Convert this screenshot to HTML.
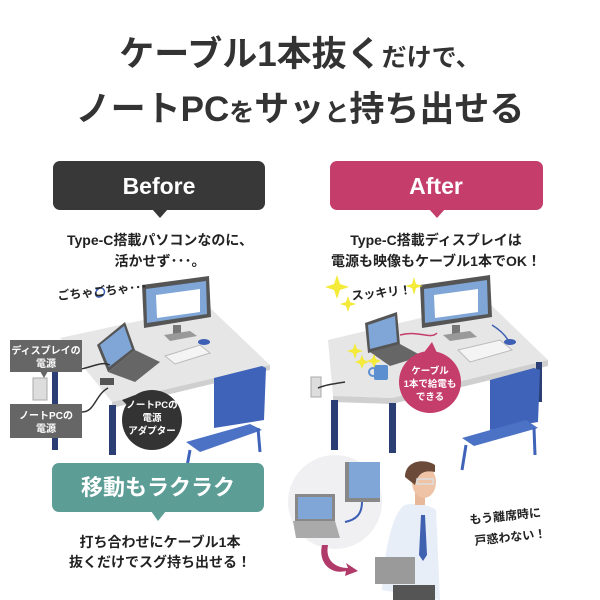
<!DOCTYPE html>
<html><head><meta charset="utf-8"><style>
html,body{margin:0;padding:0;background:#fff;}
svg{display:block;}
text{font-family:"Liberation Sans","Noto Sans CJK JP",sans-serif;font-weight:bold;}
</style></head><body>
<svg width="600" height="600" viewBox="0 0 600 600" xmlns="http://www.w3.org/2000/svg">
<rect width="600" height="600" fill="#fff"/>
<text x="300" y="66" text-anchor="middle" fill="#333" font-size="35">ケーブル1本抜く<tspan font-size="25">だけで、</tspan></text>
<text x="300" y="121" text-anchor="middle" fill="#333" font-size="35">ノートPC<tspan font-size="25">を</tspan>サッ<tspan font-size="25">と</tspan>持ち出せる</text>

<rect x="53" y="161" width="212" height="49" rx="7" fill="#383838"/>
<polygon points="152,209 168,209 160,218" fill="#383838"/>
<text x="159" y="194" text-anchor="middle" fill="#fff" font-size="23">Before</text>
<text x="160" y="245" text-anchor="middle" fill="#222" font-size="14">Type-C搭載パソコンなのに、</text>
<text x="160" y="266" text-anchor="middle" fill="#222" font-size="14">活かせず･･･。</text>

<rect x="330" y="161" width="213" height="49" rx="7" fill="#c43d6b"/>
<polygon points="429,209 445,209 437,218" fill="#c43d6b"/>
<text x="436" y="194" text-anchor="middle" fill="#fff" font-size="23">After</text>
<text x="436" y="245" text-anchor="middle" fill="#222" font-size="14">Type-C搭載ディスプレイは</text>
<text x="436" y="266" text-anchor="middle" fill="#222" font-size="14">電源も映像もケーブル1本でOK！</text>

<!-- BEFORE scene -->
<rect x="52" y="340" width="6" height="110" fill="#2b3f75"/>
<polygon points="60,338 208,306 270,365 112,402" fill="#e6e6e6"/>
<polygon points="112,402 270,365 270,370 112,408" fill="#cfcfcf"/>
<rect x="109" y="405" width="7" height="50" fill="#2b3f75"/>
<polygon points="142,285 209,276 211,317 144,328" fill="#555"/>
<polygon points="146,289 206,281 207,314 147,323" fill="#7fa6d6"/>
<polygon points="156,295 200,289 200,312 157,318" fill="#fff"/>
<rect x="173" y="325" width="8" height="10" fill="#777"/>
<polygon points="164,335 190,331 197,336 170,341" fill="#999"/>
<ellipse cx="204" cy="342" rx="6" ry="3" fill="#3d5fb5"/>
<polygon points="97,345 125,322 135,350 108,372" fill="#555"/>
<polygon points="100,345 124,326 132,349 109,367" fill="#7fa6d6"/>
<polygon points="108,372 135,350 160,362 135,382" fill="#666"/>
<polygon points="165,356 200,345 210,353 175,364" fill="#f4f4f4" stroke="#bbb" stroke-width="1"/>
<!-- chair -->
<polygon points="214,378 262,366 266,368 264,420 214,428" fill="#3e63b8"/>
<polygon points="186,442 250,424 262,430 200,452" fill="#4c72c6"/>
<line x1="190" y1="450" x2="186" y2="472" stroke="#3e63b8" stroke-width="3"/>
<line x1="258" y1="428" x2="260" y2="452" stroke="#3e63b8" stroke-width="3"/>
<path d="M70,370 C90,370 100,360 110,365" stroke="#333" stroke-width="1.5" fill="none"/>
<path d="M82,412 C95,412 95,395 108,388" stroke="#333" stroke-width="1.5" fill="none"/>
<rect x="100" y="378" width="14" height="7" fill="#555"/>
<rect x="33" y="378" width="14" height="22" fill="#ddd" stroke="#aaa"/>
<path d="M96,290 c6,-6 12,2 6,6 c-6,4 -10,-4 -2,-8" stroke="#3d5fb5" stroke-width="1.5" fill="none"/>
<text x="58" y="300" fill="#222" font-size="12" transform="rotate(-6 58 300)">ごちゃごちゃ･･･</text>
<rect x="10" y="340" width="72" height="32" fill="#666"/>
<polygon points="40,371 48,371 44,378" fill="#666"/>
<text x="46" y="354" text-anchor="middle" fill="#fff" font-size="10">ディスプレイの</text>
<text x="46" y="367" text-anchor="middle" fill="#fff" font-size="10">電源</text>
<rect x="10" y="404" width="72" height="34" fill="#666"/>
<text x="46" y="419" text-anchor="middle" fill="#fff" font-size="10">ノートPCの</text>
<text x="46" y="432" text-anchor="middle" fill="#fff" font-size="10">電源</text>
<circle cx="152" cy="420" r="30" fill="#333"/>
<polygon points="122,400 135,395 130,408" fill="#333"/>
<text x="152" y="408" text-anchor="middle" fill="#fff" font-size="9.5">ノートPCの</text>
<text x="152" y="421" text-anchor="middle" fill="#fff" font-size="9.5">電源</text>
<text x="152" y="434" text-anchor="middle" fill="#fff" font-size="9.5">アダプター</text>

<rect x="52" y="463" width="212" height="49" rx="7" fill="#5c9d96"/>
<polygon points="151,511 166,511 158,521" fill="#5c9d96"/>
<text x="158" y="495" text-anchor="middle" fill="#fff" font-size="22">移動もラクラク</text>
<text x="160" y="547" text-anchor="middle" fill="#222" font-size="14">打ち合わせにケーブル1本</text>
<text x="160" y="567" text-anchor="middle" fill="#222" font-size="14">抜くだけでスグ持ち出せる！</text>

<!-- AFTER scene -->
<polygon points="328,340 488,302 548,360 392,398 333,396" fill="#e6e6e6"/>
<polygon points="333,396 392,398 548,360 548,366 392,404 333,402" fill="#cfcfcf"/>
<rect x="331" y="400" width="7" height="50" fill="#2b3f75"/>
<rect x="389" y="403" width="7" height="50" fill="#2b3f75"/>
<rect x="536" y="362" width="6" height="40" fill="#2b3f75"/>
<rect x="311" y="377" width="10" height="20" fill="#ddd" stroke="#aaa"/>
<path d="M318,388 C325,385 332,384 345,382" stroke="#333" stroke-width="1.5" fill="none"/>
<polygon points="420,285 490,275 492,317 422,328" fill="#555"/>
<polygon points="424,289 487,280 488,314 425,323" fill="#7fa6d6"/>
<polygon points="434,295 478,289 478,312 435,318" fill="#fff"/>
<rect x="452" y="325" width="8" height="10" fill="#777"/>
<polygon points="443,335 470,331 477,337 450,341" fill="#999"/>
<ellipse cx="510" cy="342" rx="6" ry="3" fill="#3d5fb5"/>
<path d="M492,325 C500,330 505,335 508,340" stroke="#3d5fb5" stroke-width="1.5" fill="none"/>
<polygon points="365,323 397,312 400,345 368,353" fill="#555"/>
<polygon points="368,325 395,316 397,342 370,349" fill="#7fa6d6"/>
<polygon points="370,352 400,344 422,356 390,366" fill="#666"/>
<path d="M400,335 C420,330 430,340 437,333" stroke="#c43d6b" stroke-width="1.5" fill="none"/>
<polygon points="458,350 500,340 512,350 470,362" fill="#f4f4f4" stroke="#bbb" stroke-width="1"/>
<rect x="374" y="365" width="14" height="15" rx="2" fill="#5b8fd0"/>
<circle cx="373" cy="372" r="4" fill="none" stroke="#5b8fd0" stroke-width="2"/>
<!-- chair -->
<polygon points="490,380 534,368 540,370 538,422 490,430" fill="#3e63b8"/>
<polygon points="462,438 526,420 538,428 474,446" fill="#4c72c6"/>
<line x1="466" y1="445" x2="462" y2="470" stroke="#3e63b8" stroke-width="3"/>
<line x1="534" y1="428" x2="535" y2="455" stroke="#3e63b8" stroke-width="3"/>
<circle cx="430" cy="382" r="31" fill="#c43d6b"/>
<polygon points="422,355 438,355 432,342" fill="#c43d6b"/>
<text x="430" y="374" text-anchor="middle" fill="#fff" font-size="9.5">ケーブル</text>
<text x="430" y="387" text-anchor="middle" fill="#fff" font-size="9.5">1本で給電も</text>
<text x="430" y="400" text-anchor="middle" fill="#fff" font-size="9.5">できる</text>
<g fill="#f3ea3a">
<path d="M334,284 l3,-9 l3,9 l9,3 l-9,3 l-3,9 l-3,-9 l-9,-3z"/>
<path d="M346,302 l2,-6 l2,6 l6,2 l-6,2 l-2,6 l-2,-6 l-6,-2z"/>
<path d="M412,284 l2,-7 l2,7 l7,2 l-7,2 l-2,7 l-2,-7 l-7,-2z"/>
<path d="M353,349 l2,-6 l2,6 l6,2 l-6,2 l-2,6 l-2,-6 l-6,-2z"/>
<path d="M360,360 l2,-5 l2,5 l5,2 l-5,2 l-2,5 l-2,-5 l-5,-2z"/>
<path d="M372,359 l2,-5 l2,5 l5,2 l-5,2 l-2,5 l-2,-5 l-5,-2z"/>
</g>
<text x="352" y="300" fill="#222" font-size="12" transform="rotate(-6 352 300)">スッキリ！</text>

<circle cx="335" cy="502" r="47" fill="#f0f0f2"/>
<rect x="345" y="462" width="35" height="40" fill="#888"/>
<rect x="349" y="462" width="31" height="36" fill="#7fa6d6"/>
<rect x="295" y="494" width="40" height="27" fill="#888"/>
<rect x="298" y="497" width="34" height="22" fill="#7fa6d6"/>
<polygon points="293,521 335,521 340,538 296,538" fill="#aaa"/>
<path d="M362,502 C362,515 355,520 345,522" stroke="#3d5fb5" stroke-width="2" fill="none"/>
<path d="M328,545 C325,560 335,568 348,568 l-2,-5 l12,8 l-13,5 l1,-5 C330,575 318,562 322,545z" fill="#b03a6a"/>
<path d="M405,505 C395,510 385,540 382,590 L440,600 L436,510 C430,505 415,502 405,505z" fill="#e8eef7"/>
<rect x="393" y="585" width="42" height="15" fill="#555"/>
<path d="M421,515 l4,0 l2,40 l-4,6 l-4,-6z" fill="#4060b0"/>
<rect x="415" y="490" width="10" height="15" fill="#e8b89a"/>
<ellipse cx="424" cy="482" rx="12" ry="16" fill="#eec3a6"/>
<path d="M405,477 C405,460 425,458 435,465 L435,472 C425,470 418,472 415,485z" fill="#6b4a3a"/>
<rect x="417" y="479" width="16" height="5" fill="none" stroke="#ddd" stroke-width="1.5"/>
<rect x="375" y="557" width="40" height="27" fill="#9a9a9a"/>
<text x="470" y="524" fill="#222" font-size="12" transform="rotate(-6 470 524)">もう離席時に</text>
<text x="475" y="545" fill="#222" font-size="12" transform="rotate(-6 475 545)">戸惑わない！</text>
</svg>
</body></html>
